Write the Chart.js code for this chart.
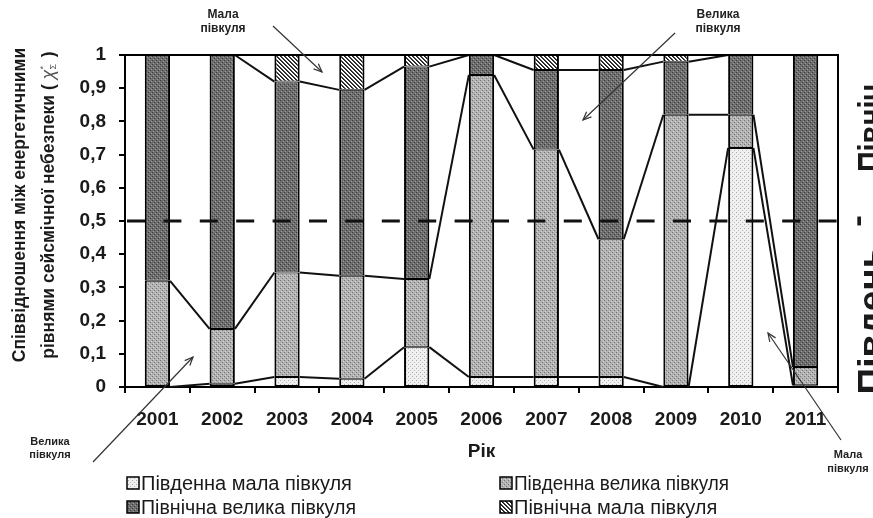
<!DOCTYPE html>
<html><head><meta charset="utf-8">
<script src="https://cdn.jsdelivr.net/npm/chart.js@4"></script>
<style>html,body{margin:0;padding:0;background:#fff;}#wrap{width:873px;height:518px;position:relative;}</style>
</head><body><div id="wrap"><canvas id="c" width="873" height="518"></canvas></div>
<script>
const categories = ['2001','2002','2003','2004','2005','2006','2007','2008','2009','2010','2011'];
const southSmall = [0, 0.01, 0.03, 0.025, 0.12, 0.03, 0.03, 0.03, 0, 0.72, 0.005];
const southLarge = [0.32, 0.165, 0.315, 0.31, 0.205, 0.91, 0.685, 0.415, 0.82, 0.10, 0.055];
const northLarge = [0.68, 0.825, 0.575, 0.56, 0.64, 0.06, 0.24, 0.51, 0.16, 0.18, 0.94];
const northSmall = [0, 0, 0.08, 0.105, 0.035, 0, 0.045, 0.045, 0.02, 0, 0];
const seriesLabels = ['Південна мала півкуля','Південна велика півкуля','Північна велика півкуля','Північна мала півкуля'];
const yTickLabels = ['0','0,1','0,2','0,3','0,4','0,5','0,6','0,7','0,8','0,9','1'];
const yTitleLine1 = 'Співвідношення між енергетичними';
const yTitleLine2 = 'рівнями сейсмічної небезпеки ( ';
const xTitle = 'Рік';
const sideNorth = 'Північ';
const sideSouth = 'Південь';
const thresholdValue = 0.5;
const notes = [
  {lines:['Мала','півкуля'], x:223, y:[15,29], size:12, from:[273,26], to:[322,72]},
  {lines:['Велика','півкуля'], x:718, y:[15,29], size:12, from:[675,33], to:[583,120]},
  {lines:['Велика','півкуля'], x:50, y:[442,455], size:11, from:[93,462], to:[193,357]},
  {lines:['Мала','півкуля'], x:848, y:[455,469], size:11, from:[841,440], to:[768,333]}
];

const FONT = "'Liberation Sans', Arial, sans-serif";
const canvas = document.getElementById('c');
const mainCtx = canvas.getContext('2d');
function pat(size, bg, dots) {
  const c = document.createElement('canvas'); c.width = size; c.height = size;
  const g = c.getContext('2d'); g.fillStyle = bg; g.fillRect(0,0,size,size);
  dots.forEach(d => { g.fillStyle = d[2]; g.fillRect(d[0], d[1], 1, 1); });
  return mainCtx.createPattern(c, 'repeat');
}
const fills = [
  pat(4, '#f0f0f0', [[0,0,'#a8a8a8'],[2,2,'#bbbbbb']]),
  pat(4, '#b2b2b2', [[0,0,'#747474'],[2,2,'#747474'],[1,3,'#d2d2d2'],[3,1,'#d2d2d2']]),
  pat(4, '#6e6e6e', [[0,0,'#3a3a3a'],[2,2,'#3a3a3a'],[1,3,'#9a9a9a'],[3,1,'#9a9a9a']]),
  pat(4, '#ffffff', [[0,0,'#202020'],[1,1,'#202020'],[2,2,'#202020'],[3,3,'#202020'],[1,0,'#404040'],[2,1,'#404040'],[3,2,'#404040'],[0,3,'#404040']])
];
const seriesData = [southSmall, southLarge, northLarge, northSmall];

const decor = {
  id: 'decor',
  afterDatasetsDraw(chart) {
    const ctx = chart.ctx, ca = chart.chartArea, y = chart.scales.y;
    ctx.save();
    ctx.strokeStyle = '#111'; ctx.lineWidth = 2;
    for (let d = 0; d < chart.data.datasets.length; d++) {
      const els = chart.getDatasetMeta(d).data;
      for (let i = 0; i < els.length - 1; i++) {
        const a = els[i], b = els[i+1];
        ctx.beginPath();
        ctx.moveTo(a.x + a.width/2, a.y);
        ctx.lineTo(b.x - b.width/2, b.y);
        ctx.stroke();
      }
    }
    const py = y.getPixelForValue(thresholdValue);
    ctx.setLineDash([18, 18.4]); ctx.lineDashOffset = -2;
    ctx.lineWidth = 3; ctx.strokeStyle = '#111';
    ctx.beginPath(); ctx.moveTo(ca.left, py); ctx.lineTo(ca.right, py); ctx.stroke();
    ctx.setLineDash([]);
    ctx.lineWidth = 2; ctx.strokeStyle = '#000';
    ctx.beginPath(); ctx.moveTo(ca.left, ca.top); ctx.lineTo(ca.right, ca.top); ctx.lineTo(ca.right, ca.bottom); ctx.stroke();
    ctx.restore();
  },
  afterDraw(chart) {
    const ctx = chart.ctx, ca = chart.chartArea;
    ctx.save();
    ctx.fillStyle = '#1a1a1a';
    const cy = 205;
    ctx.save(); ctx.translate(20, cy); ctx.rotate(-Math.PI/2);
    ctx.font = 'bold 17.5px ' + FONT; ctx.textAlign = 'center'; ctx.textBaseline = 'middle';
    ctx.fillText(yTitleLine1, 0, 0);
    ctx.restore();
    ctx.save(); ctx.translate(49, cy); ctx.rotate(-Math.PI/2);
    ctx.textBaseline = 'middle'; ctx.textAlign = 'left';
    const f1 = 'bold 17.5px ' + FONT, fchi = 'italic 18px ' + FONT, fsub = '9px ' + FONT;
    ctx.font = f1; const w1 = ctx.measureText(yTitleLine2).width;
    ctx.font = fchi; const wchi = ctx.measureText('χ').width;
    ctx.font = fsub; const wsub = ctx.measureText('Σ').width;
    ctx.font = f1; const wclose = ctx.measureText(' )').width;
    const total = w1 + wchi + wsub + 2 + wclose;
    let x0 = -total/2;
    ctx.font = f1; ctx.fillText(yTitleLine2, x0, 0); x0 += w1;
    ctx.fillStyle = '#555'; ctx.font = fchi; ctx.fillText('χ', x0, 0); x0 += wchi;
    ctx.font = fsub; ctx.fillText('Σ', x0, 5); ctx.fillText('*', x0, -5); x0 += wsub + 2;
    ctx.fillStyle = '#1a1a1a'; ctx.font = f1; ctx.fillText(' )', x0, 0);
    ctx.restore();
    ctx.font = 'bold 19px ' + FONT; ctx.textAlign = 'center'; ctx.textBaseline = 'middle';
    ctx.fillText(xTitle, (ca.left + ca.right)/2, 452);
    const legendPos = [[127,483],[500,483],[127,507],[500,507]];
    ctx.font = '20px ' + FONT; ctx.textAlign = 'left'; ctx.textBaseline = 'middle';
    chart.data.datasets.forEach((ds, i) => {
      const [lx, ly] = legendPos[i];
      ctx.fillStyle = ds.backgroundColor; ctx.fillRect(lx, ly-6, 12, 12);
      ctx.strokeStyle = '#000'; ctx.lineWidth = 1.5; ctx.strokeRect(lx, ly-6, 12, 12);
      ctx.fillStyle = '#1a1a1a'; ctx.fillText(ds.label, lx + 14, ly + 1, 215);
    });
    notes.forEach(n => {
      ctx.fillStyle = '#222'; ctx.font = 'bold ' + n.size + 'px ' + FONT;
      ctx.textAlign = 'center'; ctx.textBaseline = 'middle';
      n.lines.forEach((t, k) => ctx.fillText(t, n.x, n.y[k]));
      ctx.strokeStyle = '#333'; ctx.lineWidth = 1.2;
      ctx.beginPath(); ctx.moveTo(n.from[0], n.from[1]); ctx.lineTo(n.to[0], n.to[1]); ctx.stroke();
      const ang = Math.atan2(n.to[1]-n.from[1], n.to[0]-n.from[0]);
      ctx.beginPath();
      ctx.moveTo(n.to[0] - 9*Math.cos(ang-0.4), n.to[1] - 9*Math.sin(ang-0.4));
      ctx.lineTo(n.to[0], n.to[1]);
      ctx.lineTo(n.to[0] - 9*Math.cos(ang+0.4), n.to[1] - 9*Math.sin(ang+0.4));
      ctx.stroke();
    });
    ctx.fillStyle = '#1a1a1a';
    ctx.save(); ctx.translate(884, 320); ctx.rotate(-Math.PI/2);
    ctx.font = 'bold 37px ' + FONT; ctx.textAlign = 'center'; ctx.textBaseline = 'alphabetic';
    ctx.fillText(sideSouth, 0, 0);
    ctx.restore();
    ctx.save(); ctx.translate(884, 128); ctx.rotate(-Math.PI/2);
    ctx.font = 'bold 37px ' + FONT; ctx.textAlign = 'center'; ctx.textBaseline = 'alphabetic';
    ctx.fillText(sideNorth, 0, 0, 88);
    ctx.restore();
    ctx.save(); ctx.translate(869, 221); ctx.rotate(-Math.PI/2);
    ctx.font = 'bold 37px ' + FONT; ctx.textAlign = 'center'; ctx.textBaseline = 'alphabetic';
    ctx.fillText('–', 0, 0, 10);
    ctx.restore();
    ctx.restore();
  }
};

new Chart(canvas, {
  type: 'bar',
  data: {
    labels: categories,
    datasets: seriesData.map((arr, i) => ({
      label: seriesLabels[i], data: arr, backgroundColor: fills[i],
      borderColor: '#000', borderWidth: {top: 1, bottom: 1, left: 2, right: 2}, borderSkipped: false,
      barPercentage: 0.39, categoryPercentage: 1.0
    }))
  },
  options: {
    responsive: false, animation: false, devicePixelRatio: 1,
    layout: { padding: { left: 0, right: 35, top: 55, bottom: 0 } },
    plugins: { legend: { display: false }, tooltip: { enabled: false } },
    scales: {
      x: {
        stacked: true, offset: true,
        grid: { display: true, drawOnChartArea: false, drawTicks: true, tickLength: 6, color: '#000', lineWidth: 2, offset: true },
        border: { display: true, color: '#000', width: 2 },
        ticks: { font: { family: FONT, size: 19, weight: 'bold' }, color: '#1a1a1a', padding: 15, maxRotation: 0, autoSkip: false },
        afterFit: s => { s.height = 131; }
      },
      y: {
        stacked: true, min: 0, max: 1,
        grid: { display: true, drawOnChartArea: false, drawTicks: true, tickLength: 6, color: '#000', lineWidth: 2 },
        border: { display: true, color: '#000', width: 2 },
        ticks: { stepSize: 0.1, font: { family: FONT, size: 19, weight: 'bold' }, color: '#1a1a1a', padding: 13,
                 callback: (v, i) => yTickLabels[i] },
        afterFit: s => { s.width = 125; }
      }
    }
  },
  plugins: [decor]
});
</script></body></html>
